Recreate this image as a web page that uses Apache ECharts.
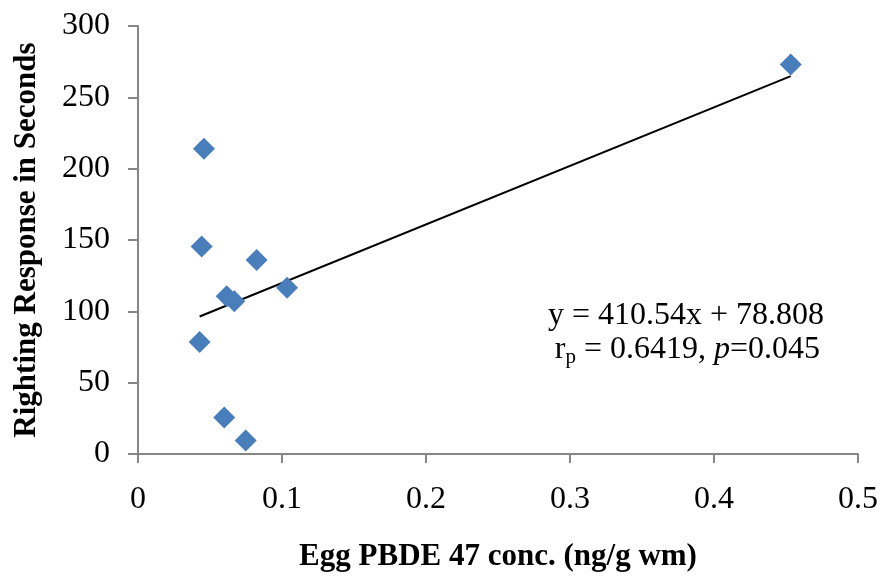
<!DOCTYPE html>
<html>
<head>
<meta charset="utf-8">
<script src="https://cdn.jsdelivr.net/npm/echarts@6/dist/echarts.min.js"></script>
<style>
  html, body { margin: 0; padding: 0; background: #fff; }
  #chart { width: 882px; height: 577px; }
</style>
</head>
<body>
<div id="chart"></div>
<script>
// PBDE 47 concentration (ng/g wm) vs righting response (s)
var pbde = [0.0458, 0.0442, 0.0824, 0.0616, 0.0669, 0.1035, 0.0428, 0.0599, 0.0748, 0.4533]
var righting = [214, 145.5, 136, 110.5, 107, 116.5, 78.5, 25.5, 9.5, 273]

// trendline end points (y = 410.54x + 78.808)
var trendX = [0.0428, 0.4533]
var trendY = [96.4, 264.9]

var xTicks = [0, 0.1, 0.2, 0.3, 0.4, 0.5]
var yTicks = [0, 50, 100, 150, 200, 250, 300]

var serif = '"Liberation Serif", "Times New Roman", serif'
var axisGrey = '#868686'

var myChart = echarts.init(document.getElementById('chart'))

var option = {
  backgroundColor: '#fff',
  animation: false,
  grid: {
    left: 138,
    right: 24,
    top: 26,
    bottom: 123,
    outerBoundsMode: 'none',
    containLabel: false
  },
  xAxis: {
    type: 'value',
    min: xTicks[0],
    max: xTicks[xTicks.length - 1],
    interval: 0.1,
    name: 'Egg PBDE 47 conc. (ng/g wm)',
    nameLocation: 'middle',
    nameGap: 87,
    nameTextStyle: { fontFamily: serif, fontWeight: 'bold', fontSize: 31, color: '#000' },
    axisLine: { lineStyle: { color: axisGrey, width: 2 } },
    axisTick: { show: true, length: 9, lineStyle: { color: axisGrey, width: 2 } },
    axisLabel: {
      margin: 30,
      fontFamily: serif,
      fontSize: 32,
      color: '#000',
      formatter: function(v) { return String(+v.toFixed(1)) }
    },
    splitLine: { show: false }
  },
  yAxis: {
    type: 'value',
    min: yTicks[0],
    max: yTicks[yTicks.length - 1],
    interval: 50,
    name: 'Righting Response in Seconds',
    nameLocation: 'middle',
    nameGap: 96,
    nameTextStyle: { fontFamily: serif, fontWeight: 'bold', fontSize: 31, color: '#000' },
    axisLine: { show: true, lineStyle: { color: axisGrey, width: 2 } },
    axisTick: { show: true, length: 10, lineStyle: { color: axisGrey, width: 2 } },
    axisLabel: {
      margin: 28,
      fontFamily: serif,
      fontSize: 32,
      color: '#000'
    },
    splitLine: { show: false }
  },
  series: [
    {
      type: 'line',
      data: trendX.map(function(x, i) { return [x, trendY[i]] }),
      showSymbol: false,
      symbol: 'none',
      lineStyle: { color: '#000', width: 2 },
      z: 1
    },
    {
      type: 'scatter',
      data: pbde.map(function(x, i) { return [x, righting[i]] }),
      symbol: 'diamond',
      symbolSize: [22, 22],
      itemStyle: { color: '#4A7EBB', opacity: 1 },
      z: 2
    }
  ],
  graphic: [
    {
      type: 'text',
      x: 824,
      y: 316,
      style: {
        text: 'y = 410.54x + 78.808',
        font: '32px ' + serif,
        fill: '#000',
        align: 'right',
        verticalAlign: 'middle'
      }
    },
    {
      type: 'text',
      x: 820,
      y: 350,
      style: {
        text: '{n|r}{s|p}{n| = 0.6419, }{i|p}{n|=0.045}',
        align: 'right',
        verticalAlign: 'middle',
        rich: {
          n: { fontFamily: serif, fontSize: 32, color: '#000', height: 34 },
          s: { fontFamily: serif, fontSize: 21, color: '#000', height: 34, padding: [14, 0, 0, 0] },
          i: { fontFamily: serif, fontSize: 32, fontStyle: 'italic', color: '#000', height: 34 }
        }
      }
    }
  ]
}

myChart.setOption(option)
</script>
</body>
</html>
